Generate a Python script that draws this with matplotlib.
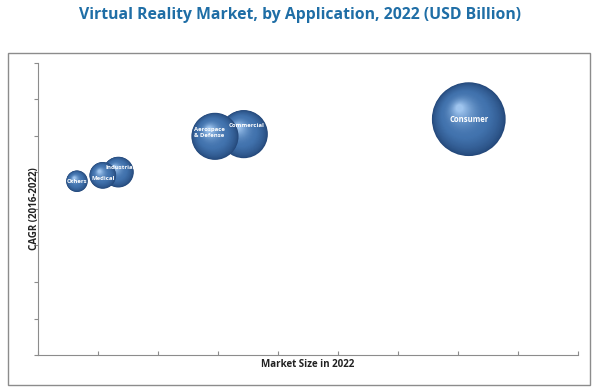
import numpy as np
import matplotlib
matplotlib.use("Agg")
from matplotlib import pyplot as plt
from matplotlib import transforms
from matplotlib.colors import to_rgb
from matplotlib.patches import Rectangle

# bubble data (drawn back to front)
apps = ["Others", "Industrial", "Medical", "Consumer", "Commercial", "Aerospace\n& Defense"]
market_size = [0.65, 1.34, 1.08, 7.18, 3.43, 2.95]
cagr = [4.76, 5.01, 4.92, 6.46, 6.05, 5.99]
bubble_area = [240, 490, 370, 2820, 1200, 1150]
label_dx = [0, 1, 0, 0, 2, -4]
label_dy = [0, 3, -2, 0, 6, 3]

title = "Virtual Reality Market, by Application, 2022 (USD Billion)"

fig = plt.figure(figsize=(6, 3.91), dpi=100)
fig.patches.append(Rectangle((0.0133, 0.015), 0.97, 0.849, transform=fig.transFigure,
                             fill=False, edgecolor="#8c8c8c", linewidth=1.0))
fig.text(0.5, 0.962, title, ha="center", va="center", color="#1f6ea6",
         fontsize=11.3, fontweight="bold", family="Open Sans")

ax = fig.add_axes([0.0633, 0.092, 0.9, 0.747])
ax.set_xlim(0, 9)
ax.set_ylim(0, 8)
ax.set_xticks(range(10))
ax.set_yticks(range(9))
for s in ["top", "right"]:
    ax.spines[s].set_visible(False)
for s in ["left", "bottom"]:
    ax.spines[s].set_color("#8c8c8c")
ax.tick_params(axis="x", direction="in", length=3, color="#8c8c8c", labelbottom=False)
ax.tick_params(axis="y", direction="out", length=3, color="#8c8c8c", labelleft=False)
ax.set_xlabel("Market Size in 2022", fontsize=7, fontweight="bold", family="Open Sans",
              color="#222222", labelpad=3)
ax.set_ylabel("CAGR (2016-2022)", fontsize=7, fontweight="bold", family="Open Sans",
              color="#222222", labelpad=-4.5)

dark = np.array(to_rgb("#24487a"))
mid = np.array(to_rgb("#4273ae"))
light = np.array(to_rgb("#9ec4ee"))

n = 40
for x, y, a, name, dx, dy in zip(market_size, cagr, bubble_area, apps, label_dx, label_dy):
    r = np.sqrt(a) / 2
    for i in range(n):
        t = i / (n - 1)
        if t < 0.4:
            c = dark + (mid - dark) * (t / 0.4) ** 0.7
        else:
            c = mid + (light - mid) * ((t - 0.4) / 0.6) ** 1.8
        size = a * (1 - t * 0.9) ** 2
        off = transforms.offset_copy(ax.transData, fig=fig, x=-0.25 * r * t, y=0.3 * r * t, units="points")
        ax.scatter([x], [y], s=size, color=c, edgecolors="none", transform=off, zorder=3)
    fs = 5.5 if a > 2000 else 4.3
    ax.annotate(name, (x, y), xytext=(dx, dy), textcoords="offset points", ha="center", va="center",
                color="white", fontsize=fs, fontweight="bold", family="Open Sans", zorder=4,
                linespacing=1.3)

fig.savefig("out.png", dpi=100)
